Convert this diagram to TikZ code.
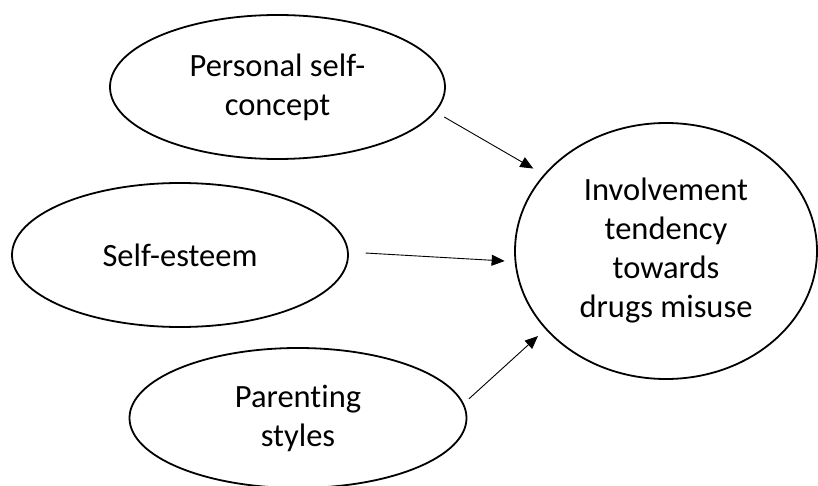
\documentclass[tikz,border=0pt]{standalone}
\usepackage{fontspec}
\setmainfont{Carlito}[Ligatures={NoCommon}]
\usetikzlibrary{shapes.geometric,arrows.meta}
\tikzset{
  oval/.style={ellipse, draw=black, line width=1.8pt, inner sep=0pt, align=center,
    font=\fontsize{32.5}{39}\selectfont},
  arr/.style={draw=black, line width=0.9pt, -{Triangle[length=13pt,width=11pt]}}
}
\begin{document}
\begin{tikzpicture}[x=1pt,y=-1pt]
\useasboundingbox (0,0) rectangle (818,486);
\node[oval, minimum width=335pt, minimum height=144pt] (e1) at (277.5,87) {Personal self-\\concept};
\node[oval, minimum width=336pt, minimum height=144pt] (e2) at (180,255) {Self-esteem};
\node[oval, minimum width=337pt, minimum height=140pt] (e3) at (298,418) {Parenting\\styles};
\node[oval, minimum width=302pt, minimum height=256pt] (inv) at (666,251) {Involvement\\tendency\\towards\\drugs misuse};
\draw[arr, shorten <=10pt, shorten >=12pt] (e1.-9) -- (inv.148.7);
\draw[arr, shorten <=17pt, shorten >=10pt] (e2.1.5) -- (inv.-176.4);
\draw[arr, shorten <=7pt, shorten >=10pt] (e3.5.7) -- (inv.-147.2);
\end{tikzpicture}
\end{document}
